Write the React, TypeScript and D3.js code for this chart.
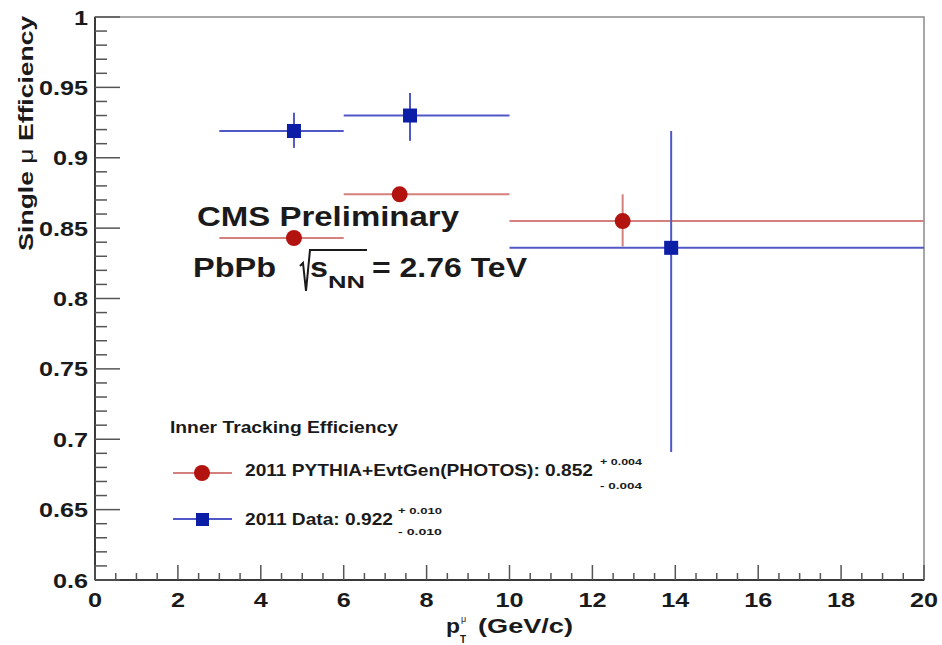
import * as d3 from "d3";

// bins and values
const binLow = [3, 6, 10];
const binHigh = [6, 10, 20];

const mcPt = [4.8, 7.35, 12.73];
const mcEff = [0.843, 0.874, 0.855];
const mcErrUp = [0.003, 0.003, 0.019];
const mcErrDown = [0.003, 0.003, 0.018];

const dataPt = [4.8, 7.6, 13.9];
const dataEff = [0.919, 0.93, 0.836];
const dataErrUp = [0.013, 0.016, 0.083];
const dataErrDown = [0.012, 0.018, 0.145];

const xTicks = [0, 2, 4, 6, 8, 10, 12, 14, 16, 18, 20];
const yTicks = [0.6, 0.65, 0.7, 0.75, 0.8, 0.85, 0.9, 0.95, 1];

const W = 942;
const H = 645;
const margin = { top: 17, right: 18, bottom: 65, left: 95 };

const FONT = "'Liberation Sans', Arial, Helvetica, sans-serif";
const INK = "#1a1a1a";
const RED_LINE = "#d4807c";
const RED_MARK = "#b3130f";
const BLUE_LINE = "#5057c6";
const BLUE_MARK = "#0c1ea6";

export default function App() {
    const x = d3.scaleLinear().domain([0, 20]).range([margin.left, W - margin.right]);
    const y = d3.scaleLinear().domain([0.6, 1]).range([H - margin.bottom, margin.top]);

    const x0 = x.range()[0], x1 = x.range()[1];
    const y0 = y.range()[0], y1 = y.range()[1];

    const xMinor = x.ticks(40);
    const yMinor = y.ticks(40);

    const series = (
        pt: number[], eff: number[], up: number[], down: number[],
        line: string, mark: string, kind: "circle" | "square"
    ) =>
        pt.map((p, i) => (
            <g key={kind + i}>
                <line x1={x(binLow[i])} x2={x(binHigh[i])} y1={y(eff[i])} y2={y(eff[i])}
                    stroke={line} strokeWidth={2} />
                <line x1={x(p)} x2={x(p)} y1={y(eff[i] + up[i])} y2={y(eff[i] - down[i])}
                    stroke={line} strokeWidth={2} />
                {kind === "circle"
                    ? <circle cx={x(p)} cy={y(eff[i])} r={8} fill={mark} />
                    : <rect x={x(p) - 7} y={y(eff[i]) - 7} width={14} height={14} fill={mark} />}
            </g>
        ));

    return (
        <svg width={W} height={H} style={{ position: "absolute", left: 0, top: 0, background: "#fff" }}
            fontFamily={FONT} fontWeight="bold" fill={INK}>
            {/* frame */}
            <rect x={x0} y={y1} width={x1 - x0} height={y0 - y1} fill="none" stroke="#8a8a8a" strokeWidth={1.5} />
            <line x1={x0} x2={x1} y1={y0} y2={y0} stroke="#3a3a3a" strokeWidth={2} />
            <line x1={x0} x2={x0} y1={y0} y2={y1} stroke="#3a3a3a" strokeWidth={2} />

            {/* x ticks */}
            {xMinor.map(t => (
                <line key={"xm" + t} x1={x(t)} x2={x(t)} y1={y0} y2={y0 - (t % 2 === 0 ? 15 : 7)}
                    stroke="#555" strokeWidth={1.5} />
            ))}
            {xTicks.map(t => (
                <text key={"xl" + t} transform={`translate(${x(t)},${y0 + 27}) scale(1.2,1)`}
                    textAnchor="middle" fontSize={21}>{String(t)}</text>
            ))}

            {/* y ticks */}
            {yMinor.map(t => {
                const major = Math.abs(Math.round(t * 20) - t * 20) < 1e-6;
                return (
                    <line key={"ym" + t} x1={x0} x2={x0 + (major ? 25 : 12)} y1={y(t)} y2={y(t)}
                        stroke="#555" strokeWidth={1.5} />
                );
            })}
            {yTicks.map(t => (
                <text key={"yl" + t} transform={`translate(${x0 - 7},${y(t) + 7.5}) scale(1.2,1)`}
                    textAnchor="end" fontSize={21}>{String(t)}</text>
            ))}

            {/* axis titles */}
            <text transform={`translate(33,${y(0.834)}) rotate(-90)`} fontSize={20}
                textLength={235} lengthAdjust="spacingAndGlyphs">
                Single <tspan fontWeight="normal">μ</tspan> Efficiency
            </text>
            <text x={446} y={633} fontSize={20} textLength={14} lengthAdjust="spacingAndGlyphs">p</text>
            <text x={461} y={622} fontSize={9} fontWeight="normal">μ</text>
            <text x={460} y={643} fontSize={10}>T</text>
            <text x={478} y={633} fontSize={20} textLength={95} lengthAdjust="spacingAndGlyphs">(GeV/c)</text>

            {/* points */}
            {series(mcPt, mcEff, mcErrUp, mcErrDown, RED_LINE, RED_MARK, "circle")}
            {series(dataPt, dataEff, dataErrUp, dataErrDown, BLUE_LINE, BLUE_MARK, "square")}

            {/* CMS label */}
            <text x={197} y={226} fontSize={27} textLength={262} lengthAdjust="spacingAndGlyphs">CMS Preliminary</text>
            <text x={193} y={277} fontSize={27} textLength={83} lengthAdjust="spacingAndGlyphs">PbPb</text>
            <path d="M300,266 L303,263 L306,291 L310,250 L367,250" fill="none" stroke={INK} strokeWidth={2} />
            <text x={310} y={277} fontSize={27} textLength={18} lengthAdjust="spacingAndGlyphs">s</text>
            <text x={328} y={288} fontSize={17} textLength={37} lengthAdjust="spacingAndGlyphs">NN</text>
            <text x={372} y={277} fontSize={27} textLength={155} lengthAdjust="spacingAndGlyphs">= 2.76 TeV</text>

            {/* legend */}
            <text x={170} y={433} fontSize={16} textLength={228} lengthAdjust="spacingAndGlyphs">Inner Tracking Efficiency</text>

            <line x1={173} x2={232} y1={473} y2={473} stroke={RED_LINE} strokeWidth={2} />
            <circle cx={202} cy={473} r={8} fill={RED_MARK} />
            <text x={245} y={476} fontSize={17} textLength={348} lengthAdjust="spacingAndGlyphs">2011 PYTHIA+EvtGen(PHOTOS): 0.852</text>
            <text x={600} y={465} fontSize={9} textLength={42} lengthAdjust="spacingAndGlyphs">+ 0.004</text>
            <text x={600} y={489} fontSize={9} textLength={42} lengthAdjust="spacingAndGlyphs">- 0.004</text>

            <line x1={173} x2={232} y1={519} y2={519} stroke={BLUE_LINE} strokeWidth={2} />
            <rect x={196} y={513} width={13} height={13} fill={BLUE_MARK} />
            <text x={245} y={525} fontSize={17} textLength={148} lengthAdjust="spacingAndGlyphs">2011 Data: 0.922</text>
            <text x={398} y={514} fontSize={9} textLength={44} lengthAdjust="spacingAndGlyphs">+ 0.010</text>
            <text x={398} y={535} fontSize={9} textLength={44} lengthAdjust="spacingAndGlyphs">- 0.010</text>
        </svg>
    );
}
